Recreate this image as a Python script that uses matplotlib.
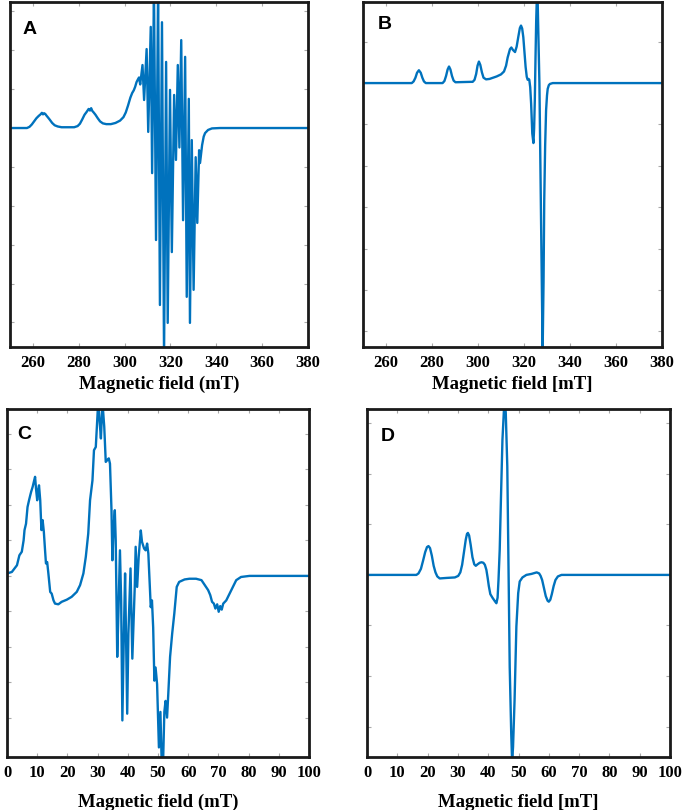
import matplotlib
matplotlib.use("Agg")
import matplotlib.pyplot as plt

# traced spectra (field, derivative signal in tick units)
A_field = [250, 257.4, 258.5, 259.5, 260.5, 261.5, 262.5, 263.3, 263.9, 264.4, 264.9, 265.4,
           265.9, 266.6, 267.4, 268.4, 269.5, 270.8, 272.5, 278.0, 279.5, 280.5, 281.5, 282.5,
           283.5, 284.3, 284.9, 285.4, 285.9, 286.5, 287.3, 288.3, 289.3, 290.5, 292.0, 294.0,
           296.0, 298.0, 299.5, 300.5, 301.5, 302.5, 303.3, 304.0, 304.6, 305.2, 305.8, 306.3,
           306.8, 307.8, 308.5, 309.6, 310.3, 311.4,
           312.0, 312.8, 313.7, 314.6, 315.4, 316.3, 317.2, 318.1, 318.8, 319.8, 320.6, 321.6,
           322.4, 323.2, 323.9, 324.7, 325.5, 326.4, 327.1, 328.0, 328.5, 329.3, 330.1, 331.0,
           331.7, 332.5, 332.9, 333.8, 334.5, 335.1, 336.4, 338.1, 341.6, 380]
A_signal = [0, 0, 0.03, 0.09, 0.17, 0.25, 0.31, 0.35, 0.39, 0.35, 0.38, 0.36,
            0.32, 0.27, 0.21, 0.13, 0.07, 0.04, 0.02, 0.02, 0.05, 0.11, 0.22, 0.34,
            0.42, 0.49, 0.45, 0.51, 0.44, 0.40, 0.34, 0.25, 0.17, 0.12, 0.10, 0.10,
            0.13, 0.19, 0.28, 0.40, 0.58, 0.78, 0.90, 0.97, 1.06, 1.18, 1.25, 1.30,
            1.12, 1.62, 0.72, 2.03, -0.10, 2.60,
            -1.16, 3.6, -2.88, 3.6, -4.55, 2.72, -5.9, 1.70, -5.01, 0.98, -3.19, 0.85,
            -0.82, 1.62, -0.50, 2.26, -2.37, 1.83, -4.34, 0.75, -5.01, -0.31, -4.16, -0.75,
            -2.44, -0.57, -0.90, -0.44, -0.22, -0.13, -0.05, -0.01, 0, 0]

B_field = [250, 271.2, 272.0, 272.8, 273.5, 274.3, 275.1, 275.8, 276.5, 277.3,
           284.6, 285.4, 286.1, 286.8, 287.4, 288.0, 288.7, 289.4, 290.2, 297.0,
           297.7, 298.5, 299.2, 299.8, 300.4, 301.0, 301.7, 302.4, 303.5, 305.0, 308.1, 310.0,
           311.3, 312.2, 312.9, 313.9, 314.5, 315.2, 316.1, 316.8, 317.5, 318.2, 318.7, 319.2,
           319.7, 320.2, 320.7, 321.2, 321.6, 322.0, 322.3, 322.7, 323.1, 323.6, 324.1, 324.4,
           324.7, 325.0, 325.3, 325.6, 325.9, 326.2, 326.7, 328.1, 328.5, 328.8, 329.2, 329.6,
           330.0, 330.3, 330.8, 331.3, 332.5, 380]
B_signal = [0, 0, 0.04, 0.13, 0.25, 0.31, 0.25, 0.13, 0.04, 0,
            0, 0.05, 0.17, 0.33, 0.40, 0.33, 0.17, 0.06, 0.02, 0.03,
            0.03, 0.08, 0.22, 0.42, 0.52, 0.44, 0.26, 0.13, 0.09, 0.10, 0.16, 0.21,
            0.28, 0.42, 0.62, 0.82, 0.86, 0.80, 0.75, 0.88, 1.11, 1.33, 1.39, 1.32,
            1.11, 0.75, 0.39, 0.15, 0.08, 0.10, 0.08, -0.10, -0.50, -1.22, -1.45, -1.10,
            -0.42, 0.60, 1.50, 2.10, 2.10, 1.30, 0, -6.5, -4.8, -2.83, -1.50, -0.66,
            -0.30, -0.14, -0.05, -0.02, 0, 0]

C_field = [0, 1.6, 3.3, 4.1, 4.9, 5.5, 5.8, 6.3, 6.8, 7.3, 7.7, 8.0, 8.5, 9.0, 9.3, 9.6,
           10.0, 10.3, 10.6, 11.0, 11.4, 11.8, 12.2, 12.6, 12.9, 13.3, 13.7, 14.3, 14.8,
           15.4, 15.9, 17.0, 18.1, 19.8, 21.4, 23.1, 24.2, 25.3, 26.1, 26.9, 27.5, 28.3,
           28.8, 29.4, 30.2, 30.8, 31.1, 31.6, 32.2, 32.7, 33.2, 33.7, 34.1, 34.6, 34.9,
           35.3, 35.7, 36.0, 36.5, 37.0, 37.4, 37.8, 38.2, 38.7, 39.1, 39.8, 40.2, 40.9,
           41.5, 42.3, 42.6, 43.1, 43.6, 44.3, 44.7, 45.4, 45.9, 46.4, 46.8, 47.3, 47.6,
           48.0, 48.4, 48.8, 49.2, 49.7, 50.3, 50.8, 51.2, 51.7, 52.1, 52.5, 53.0, 53.4,
           54.0, 54.7, 55.4, 56.2, 57.0, 58.8, 60.4, 62.6, 64.4, 65.5, 66.6, 67.3, 67.9,
           68.5, 69.0, 69.6, 70.1, 70.6, 71.1, 71.6, 72.6, 73.7, 74.8, 75.9, 77.5, 80.3, 100]
C_signal = [0.07, 0.11, 0.30, 0.58, 0.68, 1.00, 1.29, 1.47, 1.94, 2.13, 2.27, 2.37, 2.51, 2.69,
            2.79, 2.46, 2.13, 2.41, 2.55, 2.13, 1.29, 1.57, 1.24, 0.72, 0.35, 0.39, 0.07,
            -0.45, -0.50, -0.69, -0.78, -0.80, -0.73, -0.67, -0.59, -0.45, -0.26, 0.07, 0.54,
            1.19, 2.13, 2.69, 3.54, 3.63, 4.9, 4.2, 3.87, 4.9, 4.2, 3.21, 3.26, 3.31, 3.16,
            1.85, 0.44, 1.38, 1.85, 1.00, -2.28, -0.69, 0.72, -0.69, -4.07, -1.62, 0.07,
            -3.88, -1.62, 0.21, -2.33, -0.31, 0.82, -0.31, 0.53, 1.28, 0.96, 0.77, 0.72,
            0.91, 0.63, -0.31, -0.88, -0.69, -1.45, -2.95, -2.58, -3.05, -4.83, -3.83, -5.2,
            -5.2, -3.83, -3.52, -3.99, -3.33, -2.28, -1.62, -1.06, -0.31, -0.17, -0.10, -0.08,
            -0.08, -0.12, -0.26, -0.40, -0.54, -0.73, -0.78, -0.92, -0.80, -1.01, -0.85,
            -0.95, -0.78, -0.69, -0.50, -0.31, -0.12, -0.03, 0, 0]

D_field = [0, 16.3, 17.0, 17.8, 18.5, 19.2, 19.8, 20.3, 20.8, 21.4, 22.0, 22.6, 23.2, 24.0,
           26.2, 29.0, 30.1, 30.8, 31.4, 32.0, 32.6, 33.0, 33.3, 33.7, 34.2, 34.8, 35.4, 35.9,
           36.5, 37.2, 37.8, 38.4, 38.9, 39.4, 39.8, 40.2, 40.7, 41.4, 42.2, 42.7, 43.1, 43.4,
           43.8, 44.2, 44.7, 45.2, 45.5, 45.8, 46.3, 46.7, 47.1, 47.6, 47.9, 48.2, 48.7, 49.3,
           49.9, 50.4, 51.3, 52.6, 54.3, 56.0, 56.8, 57.3, 57.8, 58.4, 59.0, 59.6, 60.0, 60.5,
           61.0, 61.6, 62.2, 63.0, 64.2, 100]
D_signal = [0, 0, 0.03, 0.12, 0.28, 0.45, 0.55, 0.57, 0.53, 0.38, 0.18, 0.05, -0.03, -0.07,
            -0.06, -0.05, -0.02, 0.05, 0.20, 0.45, 0.70, 0.81, 0.83, 0.78, 0.60, 0.35, 0.21, 0.18,
            0.21, 0.24, 0.25, 0.24, 0.20, 0.10, -0.05, -0.22, -0.38, -0.45, -0.52, -0.56, -0.45,
            -0.10, 0.50, 1.49, 2.67, 3.27, 3.45, 3.20, 2.15, 0.17, -1.82, -3.14, -3.70, -3.40,
            -2.48, -1.02, -0.36, -0.13, -0.05, 0, 0.02, 0.05, 0.03, -0.02, -0.10, -0.26, -0.42,
            -0.51, -0.53, -0.49, -0.38, -0.22, -0.10, -0.03, 0, 0]

W, H = 685.0, 810.0
blue = '#0072BD'
serif = 'Liberation Serif'

fig = plt.figure(figsize=(6.85, 8.1), dpi=100)


def panel(box, x, y, xlim, ylim, xticks, yticks, letter, letter_pos, xlabel, labelpad):
    l, r, t, b = box
    ax = fig.add_axes([l / W, 1 - b / H, (r - l) / W, (b - t) / H])
    ax.plot(x, y, color=blue, lw=1.7, solid_joinstyle='round')
    ax.set_xlim(*xlim)
    ax.set_ylim(*ylim)
    ax.set_xticks(xticks)
    ax.set_yticks(yticks)
    ax.set_yticklabels([])
    ax.tick_params(direction='in', length=3, width=0.8, color='#aaaaaa',
                   top=True, right=True, pad=6)
    for lab in ax.get_xticklabels():
        lab.set_fontfamily(serif)
        lab.set_fontweight('bold')
        lab.set_fontsize(12)
    for s in ax.spines.values():
        s.set_linewidth(2)
        s.set_color('#1a1a1a')
    ax.set_xlabel(xlabel, fontfamily=serif, fontweight='bold', fontsize=13.5,
                  labelpad=labelpad)
    ax.text(letter_pos[0], letter_pos[1], letter, transform=ax.transAxes,
            fontfamily='Liberation Sans', fontweight='bold', fontsize=14,
            ha='center', va='center')
    return ax


panel((10, 308, 2, 347), A_field, A_signal, (250, 380), (-5.63, 3.24),
      range(260, 381, 20), range(-5, 4), 'A', (0.067, 0.92),
      'Magnetic field (mT)', 3)
panel((363, 662, 2, 347), B_field, B_signal, (250, 380), (-6.38, 1.96),
      range(260, 381, 20), range(-6, 2), 'B', (0.074, 0.936),
      'Magnetic field [mT]', 3)
panel((7, 309, 409, 757), C_field, C_signal, (0, 100), (-5.1, 4.7),
      range(0, 101, 10), range(-4, 5), 'C', (0.056, 0.928),
      'Magnetic field (mT)', 9)
panel((367, 670, 409, 757), D_field, D_signal, (0, 100), (-3.6, 3.28),
      range(0, 101, 10), range(-3, 4), 'D', (0.07, 0.92),
      'Magnetic field [mT]', 9)

fig.savefig('out.png', dpi=100)
